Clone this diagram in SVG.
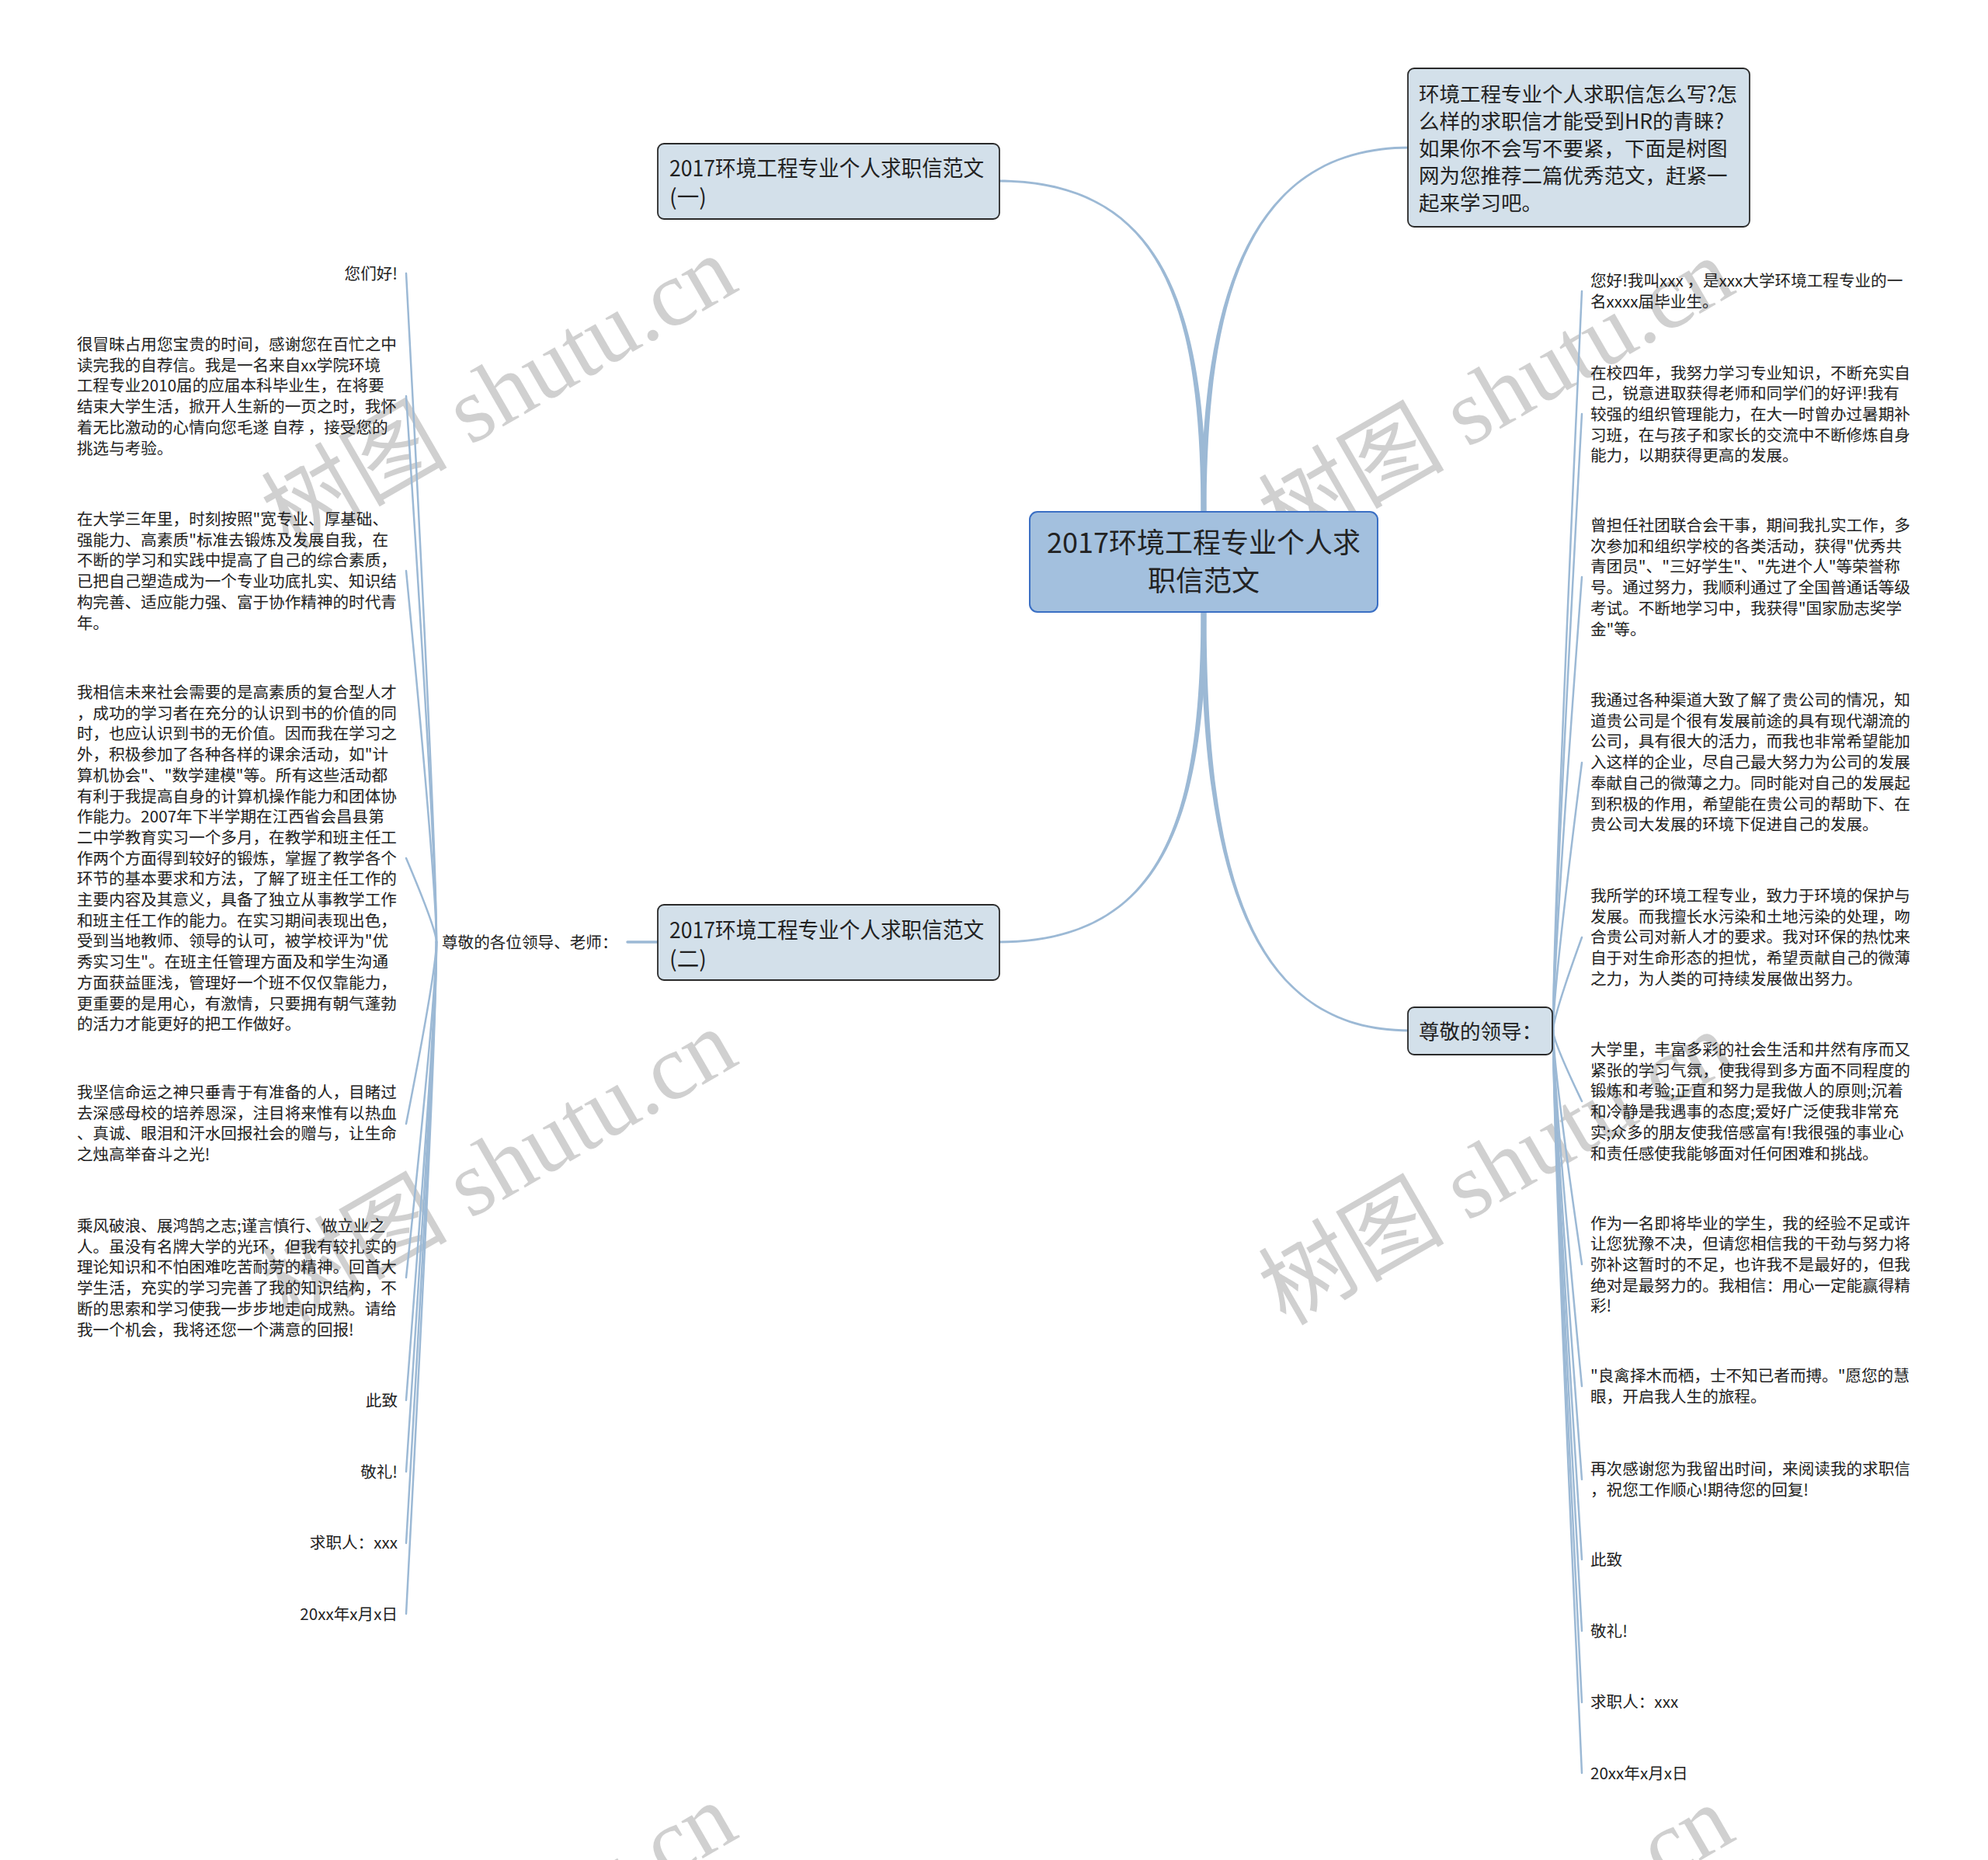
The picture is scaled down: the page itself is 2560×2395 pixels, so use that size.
<svg xmlns="http://www.w3.org/2000/svg" width="2560" height="2395" viewBox="0 0 2560 2395">
<style>
.t{font-family:"Noto Sans CJK SC","Noto Sans",sans-serif;fill:#222}
.leaf{font-size:20.6px}
.lf{fill:none;stroke:#9cb9d5;stroke-width:2.5;stroke-linecap:round}
.br{fill:#9cb9d5;stroke:none}
.nd{fill:#d3e0ea;stroke:#2a2a2a;stroke-width:1.8}
.wm{font-family:"Liberation Serif","Noto Sans CJK SC",serif;font-size:120px;fill:#8c8c8c;opacity:0.4}
</style>
<rect width="2560" height="2395" fill="#ffffff"/>
<g id="watermarks">
<text class="wm" x="643" y="546" text-anchor="middle" transform="rotate(-30 643 506)">树图 shutu.cn</text>
<text class="wm" x="1927" y="549" text-anchor="middle" transform="rotate(-30 1927 509)">树图 shutu.cn</text>
<text class="wm" x="643" y="1542" text-anchor="middle" transform="rotate(-30 643 1502)">树图 shutu.cn</text>
<text class="wm" x="1927" y="1545" text-anchor="middle" transform="rotate(-30 1927 1505)">树图 shutu.cn</text>
<text class="wm" x="643" y="2538" text-anchor="middle" transform="rotate(-30 643 2498)">树图 shutu.cn</text>
<text class="wm" x="1927" y="2541" text-anchor="middle" transform="rotate(-30 1927 2501)">树图 shutu.cn</text>
</g>
<g id="connectors">
<path class="br" d="M1553.5,665 C1553.5,400 1500,231.5 1285,231.5 L1285,234.5 C1500,234.5 1546.5,400 1546.5,665 Z"/>
<path class="br" d="M1546.5,665 C1546.5,400 1600,188.5 1815,188.5 L1815,191.5 C1600,191.5 1553.5,400 1553.5,665 Z"/>
<path class="br" d="M1553.5,782 C1553.5,1050 1500,1214.5 1285,1214.5 L1285,1211.5 C1500,1211.5 1546.5,1050 1546.5,782 Z"/>
<path class="br" d="M1553.5,782 C1553.5,1100 1600,1325.5 1815,1325.5 L1815,1328.5 C1600,1328.5 1546.5,1100 1546.5,782 Z"/>
<path class="lf" style="stroke-width:3.5" d="M808,1213 L848,1213"/>
<path class="lf" d="M562,1213 Q562,1084 523,352"/>
<path class="lf" d="M562,1213 Q562,1108 523,510"/>
<path class="lf" d="M562,1213 Q562,1141 523,735"/>
<path class="lf" d="M562,1213 Q562,1197 523,1105"/>
<path class="lf" d="M562,1213 Q562,1248 523,1447"/>
<path class="lf" d="M562,1213 Q562,1278 523,1645"/>
<path class="lf" d="M562,1213 Q562,1302 523,1803"/>
<path class="lf" d="M562,1213 Q562,1315 523,1895"/>
<path class="lf" d="M562,1213 Q562,1329 523,1987"/>
<path class="lf" d="M562,1213 Q562,1343 523,2078"/>
<path class="lf" d="M2000,1327 Q2000,1184 2037,375"/>
<path class="lf" d="M2000,1327 Q2000,1208 2037,533"/>
<path class="lf" d="M2000,1327 Q2000,1239 2037,743"/>
<path class="lf" d="M2000,1327 Q2000,1275 2037,982"/>
<path class="lf" d="M2000,1327 Q2000,1309 2037,1207"/>
<path class="lf" d="M2000,1327 Q2000,1341 2037,1418"/>
<path class="lf" d="M2000,1327 Q2000,1372 2037,1628"/>
<path class="lf" d="M2000,1327 Q2000,1396 2037,1785"/>
<path class="lf" d="M2000,1327 Q2000,1414 2037,1905"/>
<path class="lf" d="M2000,1327 Q2000,1429 2037,2008"/>
<path class="lf" d="M2000,1327 Q2000,1443 2037,2100"/>
<path class="lf" d="M2000,1327 Q2000,1457 2037,2192"/>
<path class="lf" d="M2000,1327 Q2000,1470 2037,2283"/>
</g>
<g id="center">
<rect x="1326" y="659" width="448" height="129" rx="10" fill="#a3c0de" stroke="#3a6fc4" stroke-width="2"/>
<text class="t" style="font-size:36px" text-anchor="middle"><tspan x="1550" y="712">2017环境工程专业个人求</tspan><tspan x="1550" y="761">职信范文</tspan></text>
</g>
<g id="intro">
<rect class="nd" x="1813" y="88" width="440" height="204" rx="8"/>
<text class="t" style="font-size:26.5px"><tspan x="1827" y="131">环境工程专业个人求职信怎么写?怎</tspan><tspan x="1827" y="166">么样的求职信才能受到HR的青睐?</tspan><tspan x="1827" y="201">如果你不会写不要紧，下面是树图</tspan><tspan x="1827" y="236">网为您推荐二篇优秀范文，赶紧一</tspan><tspan x="1827" y="271">起来学习吧。</tspan></text>
</g>
<g id="sample1">
<rect class="nd" x="847" y="185" width="440" height="97" rx="8"/>
<text class="t" style="font-size:28.5px" x="862" y="227" textLength="405" lengthAdjust="spacingAndGlyphs">2017环境工程专业个人求职信范文</text>
<text class="t" style="font-size:28.5px" x="862" y="264">(一)</text>
</g>
<g id="sample2">
<rect class="nd" x="847" y="1165" width="440" height="97" rx="8"/>
<text class="t" style="font-size:28.5px" x="862" y="1208" textLength="405" lengthAdjust="spacingAndGlyphs">2017环境工程专业个人求职信范文</text>
<text class="t" style="font-size:28.5px" x="862" y="1245">(二)</text>
</g>
<g id="greeting2">
<text class="t leaf" x="569" y="1221">尊敬的各位领导、老师：</text>
</g>
<g id="greeting1">
<rect class="nd" x="1813" y="1297" width="186" height="61" rx="8"/>
<text class="t" style="font-size:26.5px" x="1827" y="1338">尊敬的领导：</text>
</g>
<g id="left-leaves" class="t leaf">
<text id="l1" x="512" y="359.5" text-anchor="end">您们好!</text>
<text id="l2"><tspan x="99" y="451">很冒昧占用您宝贵的时间，感谢您在百忙之中</tspan><tspan x="99" dy="26.7">读完我的自荐信。我是一名来自xx学院环境</tspan><tspan x="99" dy="26.7">工程专业2010届的应届本科毕业生，在将要</tspan><tspan x="99" dy="26.7">结束大学生活，掀开人生新的一页之时，我怀</tspan><tspan x="99" dy="26.7">着无比激动的心情向您毛遂 自荐 ，接受您的</tspan><tspan x="99" dy="26.7">挑选与考验。</tspan></text>
<text id="l3"><tspan x="99" y="676">在大学三年里，时刻按照"宽专业、厚基础、</tspan><tspan x="99" dy="26.7">强能力、高素质"标准去锻炼及发展自我，在</tspan><tspan x="99" dy="26.7">不断的学习和实践中提高了自己的综合素质，</tspan><tspan x="99" dy="26.7">已把自己塑造成为一个专业功底扎实、知识结</tspan><tspan x="99" dy="26.7">构完善、适应能力强、富于协作精神的时代青</tspan><tspan x="99" dy="26.7">年。</tspan></text>
<text id="l4"><tspan x="99" y="899">我相信未来社会需要的是高素质的复合型人才</tspan><tspan x="99" dy="26.7">，成功的学习者在充分的认识到书的价值的同</tspan><tspan x="99" dy="26.7">时，也应认识到书的无价值。因而我在学习之</tspan><tspan x="99" dy="26.7">外，积极参加了各种各样的课余活动，如"计</tspan><tspan x="99" dy="26.7">算机协会"、"数学建模"等。所有这些活动都</tspan><tspan x="99" dy="26.7">有利于我提高自身的计算机操作能力和团体协</tspan><tspan x="99" dy="26.7">作能力。2007年下半学期在江西省会昌县第</tspan><tspan x="99" dy="26.7">二中学教育实习一个多月，在教学和班主任工</tspan><tspan x="99" dy="26.7">作两个方面得到较好的锻炼，掌握了教学各个</tspan><tspan x="99" dy="26.7">环节的基本要求和方法，了解了班主任工作的</tspan><tspan x="99" dy="26.7">主要内容及其意义，具备了独立从事教学工作</tspan><tspan x="99" dy="26.7">和班主任工作的能力。在实习期间表现出色，</tspan><tspan x="99" dy="26.7">受到当地教师、领导的认可，被学校评为"优</tspan><tspan x="99" dy="26.7">秀实习生"。在班主任管理方面及和学生沟通</tspan><tspan x="99" dy="26.7">方面获益匪浅，管理好一个班不仅仅靠能力，</tspan><tspan x="99" dy="26.7">更重要的是用心，有激情，只要拥有朝气蓬勃</tspan><tspan x="99" dy="26.7">的活力才能更好的把工作做好。</tspan></text>
<text id="l5"><tspan x="99" y="1414">我坚信命运之神只垂青于有准备的人，目睹过</tspan><tspan x="99" dy="26.7">去深感母校的培养恩深，注目将来惟有以热血</tspan><tspan x="99" dy="26.7">、真诚、眼泪和汗水回报社会的赠与，让生命</tspan><tspan x="99" dy="26.7">之烛高举奋斗之光!</tspan></text>
<text id="l6"><tspan x="99" y="1586">乘风破浪、展鸿鹄之志;谨言慎行、做立业之</tspan><tspan x="99" dy="26.7">人。虽没有名牌大学的光环，但我有较扎实的</tspan><tspan x="99" dy="26.7">理论知识和不怕困难吃苦耐劳的精神。回首大</tspan><tspan x="99" dy="26.7">学生活，充实的学习完善了我的知识结构，不</tspan><tspan x="99" dy="26.7">断的思索和学习使我一步步地走向成熟。请给</tspan><tspan x="99" dy="26.7">我一个机会，我将还您一个满意的回报!</tspan></text>
<text id="l7" x="512" y="1811" text-anchor="end">此致</text>
<text id="l8" x="512" y="1902.5" text-anchor="end">敬礼!</text>
<text id="l9" x="512" y="1994" text-anchor="end">求职人：xxx</text>
<text id="l10" x="512" y="2086" text-anchor="end">20xx年x月x日</text>
</g>
<g id="right-leaves" class="t leaf">
<text id="r1"><tspan x="2048" y="369">您好!我叫xxx ，是xxx大学环境工程专业的一</tspan><tspan x="2048" dy="26.7">名xxxx届毕业生。</tspan></text>
<text id="r2"><tspan x="2048" y="487.5">在校四年，我努力学习专业知识，不断充实自</tspan><tspan x="2048" dy="26.7">己，锐意进取获得老师和同学们的好评!我有</tspan><tspan x="2048" dy="26.7">较强的组织管理能力，在大一时曾办过暑期补</tspan><tspan x="2048" dy="26.7">习班，在与孩子和家长的交流中不断修炼自身</tspan><tspan x="2048" dy="26.7">能力，以期获得更高的发展。</tspan></text>
<text id="r3"><tspan x="2048" y="684">曾担任社团联合会干事，期间我扎实工作，多</tspan><tspan x="2048" dy="26.7">次参加和组织学校的各类活动，获得"优秀共</tspan><tspan x="2048" dy="26.7">青团员"、"三好学生"、"先进个人"等荣誉称</tspan><tspan x="2048" dy="26.7">号。通过努力，我顺利通过了全国普通话等级</tspan><tspan x="2048" dy="26.7">考试。不断地学习中，我获得"国家励志奖学</tspan><tspan x="2048" dy="26.7">金"等。</tspan></text>
<text id="r4"><tspan x="2048" y="909">我通过各种渠道大致了解了贵公司的情况，知</tspan><tspan x="2048" dy="26.7">道贵公司是个很有发展前途的具有现代潮流的</tspan><tspan x="2048" dy="26.7">公司，具有很大的活力，而我也非常希望能加</tspan><tspan x="2048" dy="26.7">入这样的企业，尽自己最大努力为公司的发展</tspan><tspan x="2048" dy="26.7">奉献自己的微薄之力。同时能对自己的发展起</tspan><tspan x="2048" dy="26.7">到积极的作用，希望能在贵公司的帮助下、在</tspan><tspan x="2048" dy="26.7">贵公司大发展的环境下促进自己的发展。</tspan></text>
<text id="r5"><tspan x="2048" y="1161">我所学的环境工程专业，致力于环境的保护与</tspan><tspan x="2048" dy="26.7">发展。而我擅长水污染和土地污染的处理，吻</tspan><tspan x="2048" dy="26.7">合贵公司对新人才的要求。我对环保的热忱来</tspan><tspan x="2048" dy="26.7">自于对生命形态的担忧，希望贡献自己的微薄</tspan><tspan x="2048" dy="26.7">之力，为人类的可持续发展做出努力。</tspan></text>
<text id="r6"><tspan x="2048" y="1359">大学里，丰富多彩的社会生活和井然有序而又</tspan><tspan x="2048" dy="26.7">紧张的学习气氛，使我得到多方面不同程度的</tspan><tspan x="2048" dy="26.7">锻炼和考验;正直和努力是我做人的原则;沉着</tspan><tspan x="2048" dy="26.7">和冷静是我遇事的态度;爱好广泛使我非常充</tspan><tspan x="2048" dy="26.7">实;众多的朋友使我倍感富有!我很强的事业心</tspan><tspan x="2048" dy="26.7">和责任感使我能够面对任何困难和挑战。</tspan></text>
<text id="r7"><tspan x="2048" y="1582.5">作为一名即将毕业的学生，我的经验不足或许</tspan><tspan x="2048" dy="26.7">让您犹豫不决，但请您相信我的干劲与努力将</tspan><tspan x="2048" dy="26.7">弥补这暂时的不足，也许我不是最好的，但我</tspan><tspan x="2048" dy="26.7">绝对是最努力的。我相信：用心一定能赢得精</tspan><tspan x="2048" dy="26.7">彩!</tspan></text>
<text id="r8"><tspan x="2048" y="1779">"良禽择木而栖，士不知已者而搏。"愿您的慧</tspan><tspan x="2048" dy="26.7">眼，开启我人生的旅程。</tspan></text>
<text id="r9"><tspan x="2048" y="1899">再次感谢您为我留出时间，来阅读我的求职信</tspan><tspan x="2048" dy="26.7">，祝您工作顺心!期待您的回复!</tspan></text>
<text id="r10" x="2048" y="2016">此致</text>
<text id="r11" x="2048" y="2107.5">敬礼!</text>
<text id="r12" x="2048" y="2199">求职人：xxx</text>
<text id="r13" x="2048" y="2291">20xx年x月x日</text>
</g>
</svg>
